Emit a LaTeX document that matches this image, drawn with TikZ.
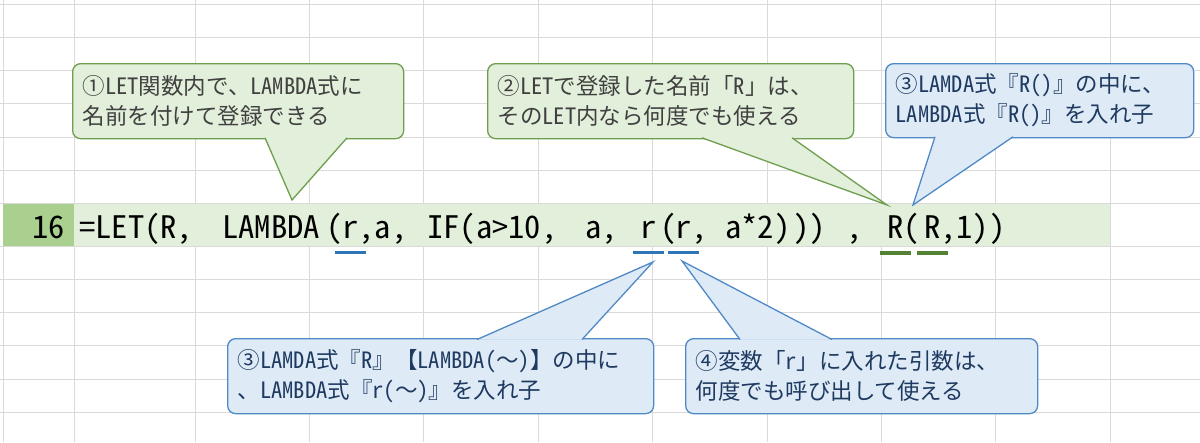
\documentclass[tikz,border=0pt]{standalone}
\usepackage{fontspec}
\setmainfont{Noto Sans CJK JP}[RawFeature=+hwid]
\newfontfamily\formulafont{Noto Sans CJK JP}[RawFeature=+hwid, FakeStretch=1.05]
\newfontfamily\widefont{Noto Sans CJK JP}

\definecolor{gridgray}{HTML}{DADADA}
\definecolor{rowhead}{HTML}{A9D08E}
\definecolor{rowband}{HTML}{E2EFDA}
\definecolor{gfill}{HTML}{E2EFDA}
\definecolor{gline}{HTML}{6E9E4E}
\definecolor{gtext}{HTML}{404040}
\definecolor{bfill}{HTML}{DEEBF7}
\definecolor{bline}{HTML}{5089C6}
\definecolor{btext}{HTML}{1F3A60}
\definecolor{ublue}{HTML}{2E75B6}
\definecolor{ugreen}{HTML}{548235}

% pointer of a callout: fill colour, line colour, base point, tip, base point
\newcommand{\calltail}[5]{%
  \fill[#1] #3 -- #4 -- #5 -- cycle;
  \draw[#2, line width=1.3pt] #3 -- #4 -- #5;}
\newcommand{\wave}{{\widefont ～}}

\begin{document}
\begin{tikzpicture}[x=1pt, y=-1pt,
  grid/.style={draw=gridgray, line width=1pt},
  formula/.style={anchor=base west, inner sep=0pt, font=\formulafont\fontsize{31}{31}\selectfont},
  note/.style={anchor=north west, rounded corners=8pt, line width=1.3pt, inner xsep=10pt, inner ysep=0pt, align=left, font=\fontsize{22.5}{30}\selectfont},
  greennote/.style={note, draw=gline, fill=gfill, text=gtext},
  bluenote/.style={note, draw=bline, fill=bfill, text=btext},
  bar/.style={inner sep=0pt, minimum width=31pt, minimum height=3.5pt},
  bluebar/.style={bar, fill=ublue},
  greenbar/.style={bar, fill=ugreen}]

\useasboundingbox (0,0) rectangle (1200,442);
\fill[white] (0,0) rectangle (1200,442);

% sheet grid
\foreach \k in {0,...,6}
  \draw[grid] (0,{4+33.33*\k}) -- (1200,{4+33.33*\k});
\foreach \k in {0,...,5}
  \draw[grid] (0,{246+33.25*\k}) -- (1200,{246+33.25*\k});
\foreach \x in {3,74}
  \draw[grid] (\x,0) -- (\x,442);
\foreach \k in {0,...,8}
  \draw[grid] ({195+114.4*\k},0) -- ({195+114.4*\k},442);

% row 16
\fill[rowhead] (3,204) rectangle (74,246);
\fill[rowband] (74,204) rectangle (1110,246);
\node[formula, anchor=base east] (rownum) at (65,238) {16};

% formula
\node[formula] (let) at (79,238) {=LET(R,};
\node[formula] (lam) at (222,238) {LAMBDA};
\node[formula] (lpar) at (326,238) {(};
\node[formula] (rarg) at (342,238) {r};
\node[formula] (args) at (358.3,238) {,a,};
\node[formula] (ifpart) at (427,238) {IF(a>10,};
\node[formula] (aval) at (585,238) {a,};
\node[formula] (rcall) at (640,238) {r};
\node[formula] (cpar) at (660,238) {(};
\node[formula] (rpass) at (675,238) {r};
\node[formula] (comma1) at (691,238) {,};
\node[formula] (dbl) at (725,238) {a*2)};
\node[formula] (close) at (793,238) {))};
\node[formula] (comma2) at (846,238) {,};
\node[formula] (Rcall) at (887,238) {R};
\node[formula] (rpar) at (903,238) {(};
\node[formula] (Rpass) at (924,238) {R};
\node[formula] (tail) at (940,238) {,1))};

% underlines
\node[bluebar] (u1) at (rarg.base |- 0,252.5) {};
\node[bluebar] (u2) at (rcall.base |- 0,252.5) {};
\node[bluebar] (u3) at (rpass.base |- 0,252.5) {};
\node[greenbar] (u4) at (Rcall.base |- 0,253) {};
\node[greenbar] (u5) at (Rpass.base |- 0,253) {};

% pointer tips
\coordinate (t1) at (292,200);
\coordinate (t2) at (887,205);
\coordinate (t3) at (913,205);
\coordinate (t4) at (653,262);
\coordinate (t5) at (682,261);

% callouts
\node[greennote, text width=311pt, minimum height=75pt] (note1) at (72,63)
  {①LET関数内で、LAMBDA式に\\名前を付けて登録できる};
\calltail{gfill}{gline}{([xshift=193pt,yshift=1.5pt]note1.south west)}{(t1)}{([xshift=275pt,yshift=1.5pt]note1.south west)}

\node[greennote, text width=346pt, minimum height=75pt] (note2) at (487,63)
  {②LETで登録した名前「R」は、\\そのLET内なら何度でも使える};
\calltail{gfill}{gline}{([xshift=215pt,yshift=1.5pt]note2.south west)}{(t2)}{([xshift=305pt,yshift=1.5pt]note2.south west)}

\node[bluenote, text width=288pt, minimum height=74pt] (note3) at (885,63)
  {③LAMDA式『R()』の中に、\\LAMBDA式『R()』を入れ子};
\calltail{bfill}{bline}{([xshift=50pt,yshift=1.5pt]note3.south west)}{(t3)}{([xshift=128pt,yshift=1.5pt]note3.south west)}

\node[bluenote, text width=406pt, minimum height=75pt] (note4) at (227,338)
  {③LAMDA式『R』【LAMBDA(\wave)】の中に\\、LAMBDA式『r(\wave)』を入れ子};
\calltail{bfill}{bline}{([xshift=250pt,yshift=-1.5pt]note4.north west)}{(t4)}{([xshift=355pt,yshift=-1.5pt]note4.north west)}

\node[bluenote, text width=332pt, minimum height=75pt] (note5) at (685,338)
  {④変数「r」に入れた引数は、\\何度でも呼び出して使える};
\calltail{bfill}{bline}{([xshift=55pt,yshift=-1.5pt]note5.north west)}{(t5)}{([xshift=147pt,yshift=-1.5pt]note5.north west)}
\end{tikzpicture}
\end{document}
